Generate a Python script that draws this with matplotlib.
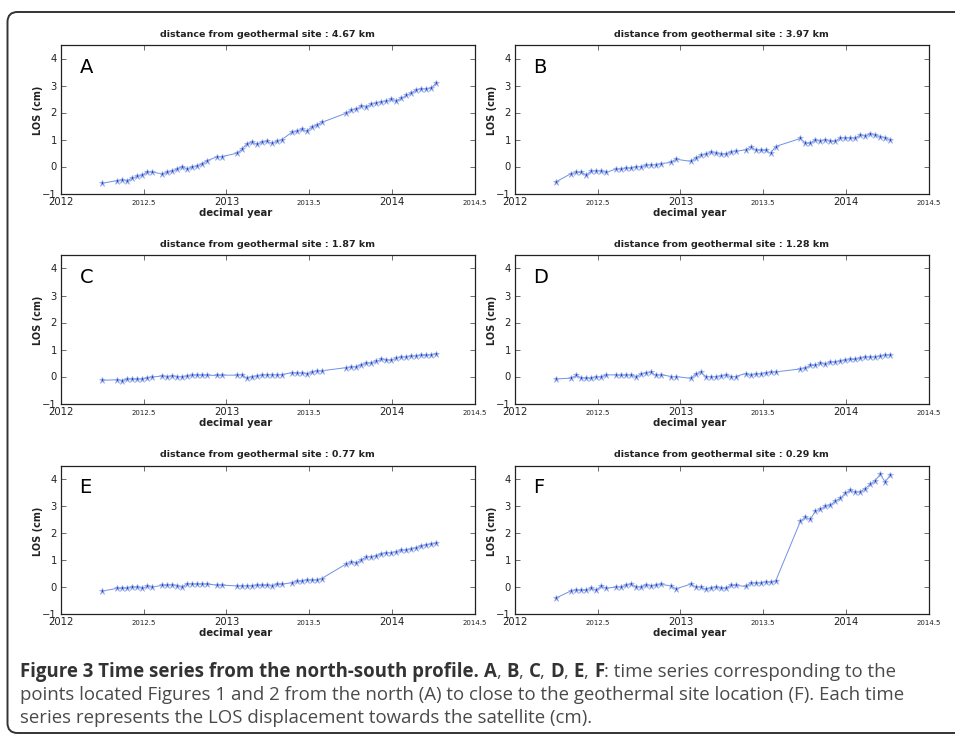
import matplotlib
matplotlib.use("Agg")
import matplotlib.pyplot as plt
from matplotlib.patches import FancyBboxPatch
from matplotlib.transforms import IdentityTransform

# acquisition dates (decimal year), shared by all six points
years = [2012.250, 2012.340, 2012.370, 2012.401, 2012.431, 2012.461, 2012.491,
         2012.521, 2012.551, 2012.611, 2012.642, 2012.672, 2012.702, 2012.732,
         2012.762, 2012.792, 2012.822, 2012.852, 2012.882, 2012.943, 2012.973,
         2013.063, 2013.093, 2013.123, 2013.153, 2013.184, 2013.214, 2013.244,
         2013.274, 2013.304, 2013.334, 2013.394, 2013.425, 2013.455, 2013.485,
         2013.515, 2013.545, 2013.575, 2013.726, 2013.756, 2013.786, 2013.816,
         2013.846, 2013.876, 2013.906, 2013.936, 2013.967, 2013.997, 2014.027,
         2014.057, 2014.087, 2014.117, 2014.147, 2014.177, 2014.208, 2014.238,
         2014.268]

los_a = [-0.62, -0.52, -0.50, -0.52, -0.43, -0.37, -0.33, -0.19, -0.21, -0.27,
         -0.22, -0.17, -0.09, 0.00, -0.09, -0.02, 0.02, 0.10, 0.21, 0.36, 0.37,
         0.49, 0.63, 0.84, 0.90, 0.83, 0.90, 0.93, 0.86, 0.93, 0.99, 1.26, 1.30,
         1.38, 1.31, 1.46, 1.54, 1.63, 1.98, 2.10, 2.12, 2.25, 2.22, 2.31, 2.35,
         2.40, 2.42, 2.49, 2.44, 2.52, 2.63, 2.72, 2.84, 2.88, 2.88, 2.90, 3.09]

los_b = [-0.56, -0.26, -0.22, -0.22, -0.31, -0.17, -0.15, -0.17, -0.22, -0.09,
         -0.10, -0.06, -0.06, 0.00, 0.00, 0.04, 0.07, 0.07, 0.11, 0.15, 0.27,
         0.19, 0.32, 0.41, 0.46, 0.53, 0.49, 0.46, 0.46, 0.54, 0.56, 0.62, 0.72,
         0.62, 0.60, 0.60, 0.49, 0.74, 1.04, 0.86, 0.86, 1.00, 0.93, 1.00, 0.93,
         0.93, 1.06, 1.06, 1.06, 1.05, 1.16, 1.14, 1.20, 1.16, 1.11, 1.06, 0.99]

los_c = [-0.14, -0.12, -0.15, -0.09, -0.10, -0.10, -0.09, -0.05, -0.02, 0.02,
         0.00, 0.02, 0.00, 0.00, 0.01, 0.04, 0.06, 0.05, 0.05, 0.04, 0.05,
         0.05, 0.07, -0.06, 0.00, 0.02, 0.05, 0.07, 0.07, 0.07, 0.07, 0.14, 0.12,
         0.14, 0.10, 0.15, 0.21, 0.21, 0.33, 0.35, 0.37, 0.44, 0.49, 0.51, 0.56,
         0.63, 0.62, 0.60, 0.68, 0.72, 0.73, 0.75, 0.77, 0.78, 0.78, 0.81, 0.84]

los_d = [-0.09, -0.06, 0.04, -0.05, -0.06, -0.07, -0.01, -0.01, 0.06, 0.06,
         0.04, 0.06, 0.06, 0.00, 0.09, 0.14, 0.16, 0.04, 0.07, 0.00, 0.00,
         -0.07, 0.10, 0.15, 0.00, 0.00, 0.00, 0.02, 0.05, 0.00, 0.00, 0.11, 0.04,
         0.10, 0.11, 0.14, 0.15, 0.17, 0.28, 0.32, 0.41, 0.41, 0.49, 0.46, 0.54,
         0.54, 0.57, 0.60, 0.63, 0.63, 0.67, 0.72, 0.73, 0.73, 0.75, 0.79, 0.79]

los_e = [-0.15, -0.05, -0.05, -0.04, -0.01, 0.00, -0.05, 0.02, 0.00, 0.06,
         0.06, 0.09, 0.05, 0.00, 0.12, 0.11, 0.11, 0.11, 0.11, 0.07, 0.07,
         0.04, 0.04, 0.05, 0.04, 0.06, 0.06, 0.06, 0.05, 0.10, 0.10, 0.16, 0.21,
         0.21, 0.27, 0.25, 0.26, 0.31, 0.86, 0.91, 0.90, 1.00, 1.12, 1.12, 1.16,
         1.23, 1.27, 1.27, 1.31, 1.36, 1.38, 1.42, 1.46, 1.51, 1.57, 1.59, 1.62]

los_f = [-0.40, -0.14, -0.11, -0.12, -0.12, -0.04, -0.12, 0.04, -0.05, 0.00,
         0.01, 0.06, 0.11, 0.01, 0.00, 0.09, 0.04, 0.06, 0.10, 0.04, -0.07,
         0.11, 0.00, 0.00, -0.09, -0.02, 0.00, -0.05, -0.04, 0.06, 0.06, 0.02,
         0.15, 0.15, 0.15, 0.20, 0.17, 0.21, 2.44, 2.58, 2.51, 2.81, 2.88, 2.99,
         3.02, 3.19, 3.28, 3.47, 3.59, 3.51, 3.53, 3.64, 3.80, 3.94, 4.17, 3.89,
         4.14]

letters = ["A", "B", "C", "D", "E", "F"]
distances = ["4.67", "3.97", "1.87", "1.28", "0.77", "0.29"]
series = [los_a, los_b, los_c, los_d, los_e, los_f]

W, H = 955, 736
fig = plt.figure(figsize=(W / 100, H / 100), dpi=100)

lefts = [61, 515]
tops = [45, 255, 465.5]
aw, ah = 413.5, 148.5

for i in range(6):
    row, col = i // 2, i % 2
    x0 = lefts[col]
    y0 = tops[row] + ah
    ax = fig.add_axes([x0 / W, (H - y0) / H, aw / W, ah / H])
    ax.plot(years, series[i], color='#7090e4', lw=0.7,
            marker='*', ms=5, mfc='#2546c0', mec='#a5b8ee', mew=0.5)
    ax.set_xlim(2012, 2014.5)
    ax.set_ylim(-1, 4.5)
    ax.set_yticks([-1, 0, 1, 2, 3, 4])
    ax.set_yticklabels(['\u22121', '0', '1', '2', '3', '4'], fontsize=7.2, color='#222222')
    ax.set_xticks([2012, 2013, 2014])
    ax.set_xticklabels(['2012', '2013', '2014'], fontsize=7.2, color='#222222')
    ax.set_xticks([2012.5, 2013.5, 2014.5], minor=True)
    ax.set_xticklabels(['2012.5', '2013.5', '2014.5'], minor=True, fontsize=5, color='#222222')
    ax.tick_params(axis='both', which='both', direction='in', top=True, right=True,
                   length=3.5, width=0.6, color='#555555')
    ax.tick_params(axis='x', which='major', pad=2.5)
    ax.tick_params(axis='x', which='minor', pad=4.5)
    ax.tick_params(axis='y', pad=3)
    for sp in ax.spines.values():
        sp.set_linewidth(0.9)
        sp.set_color('#222222')
    ax.set_title('distance from geothermal site : %s km' % distances[i],
                 fontsize=6.8, fontweight='bold', color='#222222', pad=6)
    ax.set_ylabel('LOS (cm)', fontsize=7, fontweight='bold', color='#222222')
    ax.yaxis.set_label_coords(-0.043, 0.56)
    ax.set_xlabel('decimal year', fontsize=7.3, fontweight='bold', color='#222222')
    ax.xaxis.set_label_coords(0.423, -0.095)
    ax.text(0.045, 0.915, letters[i], transform=ax.transAxes, fontsize=14,
            ha='left', va='top', color='black')

# rounded frame around the figure
frame = FancyBboxPatch((7.5, H - 733), 1000, 721, boxstyle="round,pad=0,rounding_size=10",
                       transform=IdentityTransform(), fill=False, lw=1.4, ec='#333333')
fig.add_artist(frame)

# caption, mixing bold and regular runs
cap_lines = [
    [("Figure 3 Time series from the north-south profile. ", 'bold'),
     ("A", 'bold'), (", ", 'normal'), ("B", 'bold'), (", ", 'normal'),
     ("C", 'bold'), (", ", 'normal'), ("D", 'bold'), (", ", 'normal'),
     ("E", 'bold'), (", ", 'normal'), ("F", 'bold'),
     (": time series corresponding to the", 'normal')],
    [("points located Figures 1 and 2 from the north (A) to close to the geothermal site location (F). Each time", 'normal')],
    [("series represents the LOS displacement towards the satellite (cm).", 'normal')],
]
baselines = [677, 700, 723]
renderer = fig.canvas.get_renderer()
for runs, yb in zip(cap_lines, baselines):
    x = 20
    for s, w in runs:
        col = '#333333' if w == 'bold' else '#4a4a4a'
        t = fig.text(x / W, (H - yb) / H, s, fontsize=13.4, fontweight=w,
                     family='Open Sans', color=col, va='baseline', ha='left')
        bb = t.get_window_extent(renderer=renderer)
        x += bb.width

fig.savefig('out.png', dpi=100)
